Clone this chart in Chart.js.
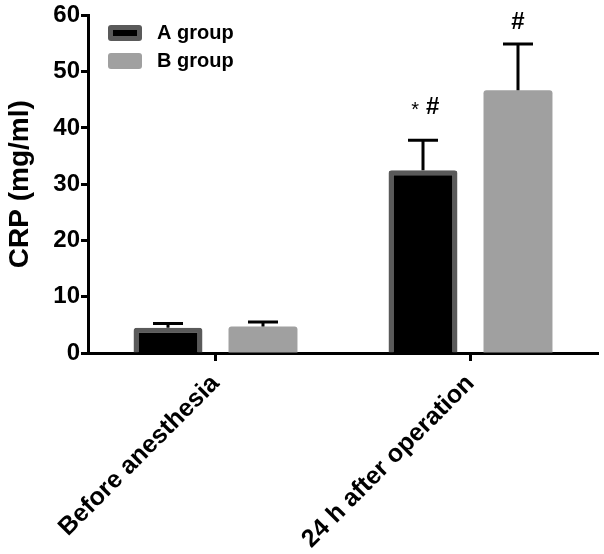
<!DOCTYPE html>
<html>
<head>
<meta charset="utf-8">
<script src="https://cdn.jsdelivr.net/npm/chart.js@4"></script>
<style>
  html, body { margin: 0; padding: 0; background: #fff; }
  #wrap { width: 604px; height: 554px; }
</style>
</head>
<body>
<div id="wrap"><canvas id="chart" width="604" height="554"></canvas></div>
<script>
const categories = ['Before anesthesia', '24 h after operation'];
const groupA = [4.5, 32.5];
const groupB = [4.7, 46.7];
const errA = [0.75, 5.3];
const errB = [0.8, 8.2];
// significance marks and the value height they sit at
const markA = ['', '* #'];
const markAY = [null, 43.7];
const markB = ['', '#'];
const markBY = [null, 58.8];
const yTicks = [0, 10, 20, 30, 40, 50, 60];

const FONT = '"Liberation Sans", Arial, sans-serif';

const errorBars = {
  id: 'errorBars',
  afterDatasetsDraw(chart) {
    const ctx = chart.ctx;
    const y = chart.scales.y;
    ctx.save();
    ctx.strokeStyle = '#000';
    ctx.lineWidth = 3;
    chart.data.datasets.forEach((ds, di) => {
      const meta = chart.getDatasetMeta(di);
      meta.data.forEach((bar, i) => {
        const top = y.getPixelForValue(ds.data[i] + ds.err[i]);
        ctx.beginPath();
        ctx.moveTo(bar.x, bar.y);
        ctx.lineTo(bar.x, top);
        ctx.moveTo(bar.x - 15, top);
        ctx.lineTo(bar.x + 15, top);
        ctx.stroke();
        const m = ds.marks[i];
        if (m) {
          const my = y.getPixelForValue(ds.markY[i]);
          ctx.fillStyle = '#000';
          ctx.textBaseline = 'middle';
          if (m.startsWith('*')) {
            ctx.textAlign = 'right';
            ctx.font = '20px ' + FONT;
            ctx.fillText('*', bar.x - 4, my + 3);
            ctx.textAlign = 'left';
            ctx.font = 'bold 24px ' + FONT;
            ctx.fillText('#', bar.x + 3, my);
          } else {
            ctx.textAlign = 'center';
            ctx.font = 'bold 24px ' + FONT;
            ctx.fillText(m, bar.x, my);
          }
        }
      });
    });
    ctx.restore();
  }
};

const boxLegend = {
  id: 'boxLegend',
  afterDraw(chart) {
    const ctx = chart.ctx;
    ctx.save();
    chart.data.datasets.forEach((ds, i) => {
      const yy = 25 + i * 28;
      ctx.fillStyle = ds.borderColor;
      ctx.beginPath();
      ctx.roundRect(108, yy, 34, 16, 3);
      ctx.fill();
      ctx.fillStyle = ds.backgroundColor;
      ctx.fillRect(113, yy + 5, 24, 6);
      ctx.fillStyle = '#000';
      ctx.font = 'bold 20px ' + FONT;
      ctx.textAlign = 'left';
      ctx.textBaseline = 'middle';
      ctx.fillText(ds.label, 157, yy + 8);
    });
    ctx.restore();
  }
};

new Chart(document.getElementById('chart').getContext('2d'), {
  type: 'bar',
  data: {
    labels: categories,
    datasets: [
      {
        label: 'A group', data: groupA, err: errA, marks: markA, markY: markAY,
        backgroundColor: '#000000', borderColor: '#5a5a5a', borderWidth: 5,
        borderSkipped: 'bottom', borderRadius: 3
      },
      {
        label: 'B group', data: groupB, err: errB, marks: markB, markY: markBY,
        backgroundColor: '#a0a0a0', borderColor: '#a0a0a0', borderWidth: 0,
        borderSkipped: 'bottom', borderRadius: 3
      }
    ]
  },
  options: {
    responsive: false,
    animation: false,
    categoryPercentage: 0.745,
    barPercentage: 0.726,
    layout: { padding: { left: 0, right: 6, top: 15, bottom: 0 } },
    plugins: { legend: { display: false }, tooltip: { enabled: false } },
    scales: {
      x: {
        grid: { display: true, drawOnChartArea: false, offset: false, tickLength: 8, tickWidth: 3, tickColor: '#000' },
        border: { display: true, color: '#000', width: 3 },
        ticks: {
          color: '#000', minRotation: 45, maxRotation: 45, padding: 8,
          font: { family: FONT, size: 25, weight: 'bold' }
        },
        afterFit(s) { s.height = 201; }
      },
      y: {
        min: 0, max: 60,
        afterBuildTicks(s) { s.ticks = yTicks.map(v => ({ value: v })); },
        grid: { display: true, drawOnChartArea: false, tickLength: 7, tickWidth: 3, tickColor: '#000' },
        border: { display: true, color: '#000', width: 3 },
        ticks: {
          color: '#000', padding: 1,
          font: { family: FONT, size: 24, weight: 'bold' }
        },
        title: {
          display: true, text: 'CRP (mg/ml)', color: '#000', padding: { top: 3, bottom: 0 },
          font: { family: FONT, size: 28, weight: 'bold' }
        },
        afterFit(s) { s.width = 88; }
      }
    }
  },
  plugins: [errorBars, boxLegend]
});
</script>
</body>
</html>
